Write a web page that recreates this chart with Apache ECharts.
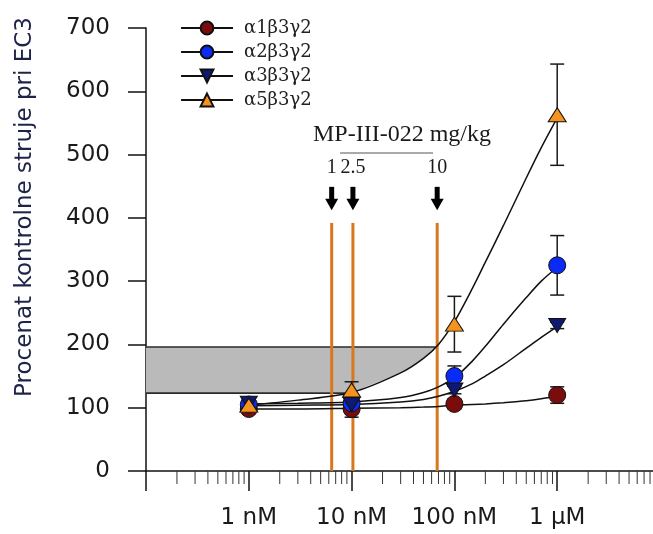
<!DOCTYPE html>
<html><head><meta charset="utf-8">
<script src="https://cdn.jsdelivr.net/npm/echarts@6/dist/echarts.min.js"></script>
<style>html,body{margin:0;padding:0;background:#fff}#c{width:653px;height:534px}</style>
</head><body><div id="c"></div>
<script>
// ---------- data ----------
const seriesNames = ['α1β3γ2', 'α2β3γ2', 'α3β3γ2', 'α5β3γ2'];
const conc = [1, 10, 100, 1000]; // nM
const a1Mean = [98, 98, 106, 120];
const a1Err = [6, 13, 8, 13];
const a2Mean = [105, 107, 150, 325];
const a2Err = [5, 8, 16, 47];
const a3Mean = [107, 105, 128, 230];
const a3Err = [5, 5, 6, 5];
const a5Mean = [104, 128, 232, 563];
const a5Err = [5, 13, 44, 80];

const curveConc = [1, 3, 10, 30, 50, 70, 100, 150, 200, 300, 500, 700, 1000];
const a1Curve = [98, 98, 99, 100, 101, 102, 104, 105, 106, 108, 111, 114, 118];
const a2Curve = [106, 107, 109, 116, 124, 133, 147, 174, 197, 232, 274, 300, 322];
const a3Curve = [103, 104, 105, 109, 113, 118, 126, 138, 150, 168, 194, 211, 228];
const a5Curve = [104, 112, 124, 155, 178, 200, 236, 289, 330, 388, 463, 511, 558];

const doseLabels = ['1', '2.5', '10'];
const doseConc = [6.4, 10.3, 68];
const bandLow = 123, bandHigh = 196, bandStartConc = 0.1, bandEndConc = 67;

const xTickValues = [1, 10, 100, 1000];
const xTickLabels = ['1 nM', '10 nM', '100 nM', '1 µM'];
const minorTicks = [0.2,0.3,0.4,0.5,0.6,0.7,0.8,0.9, 2,3,4,5,6,7,8,9, 20,30,40,50,60,70,80,90,
  200,300,400,500,600,700,800,900, 2000,3000,4000,5000,6000,7000,8000,9000];

// ---------- styling constants ----------
const colors = ['#7a0c0c', '#0a2af5', '#0e1a72', '#f5931e'];
const symbols = ['circle', 'circle', 'triangle', 'triangle'];
const rotations = [0, 0, 180, 0];
const sizes = [17, 17, [17, 14], [18, 14]];
const means = [a1Mean, a2Mean, a3Mean, a5Mean];
const errs = [a1Err, a2Err, a3Err, a5Err];
const curves = [a1Curve, a2Curve, a3Curve, a5Curve];
const vlineTop = 392, arrowTop = 449, arrowHead = 430, arrowTip = 412, doseLabelY = 479;
const SANS = 'DejaVu Sans', SERIF = 'Liberation Serif';

const chart = echarts.init(document.getElementById('c'));
const series = [];

// gray band
series.push({
  type: 'custom', silent: true, z: 1, clip: false,
  data: [[bandStartConc, bandHigh]], encode: {x: 0, y: 1},
  renderItem: function (params, api) {
    const pts = [[bandStartConc, bandHigh], [bandEndConc, bandHigh]];
    const a5 = curves[3];
    for (let i = curveConc.length - 1; i >= 0; i--) {
      if (curveConc[i] < bandEndConc && curveConc[i] >= 10) pts.push([curveConc[i], a5[i]]);
    }
    pts.push([bandStartConc, bandLow]);
    const px = pts.map(p => api.coord(p));
    const lowEnd = api.coord([10, bandLow]);
    return {type: 'group', children: [
      {type: 'polygon', shape: {points: px}, style: {fill: '#bababa', stroke: null}},
      {type: 'line', shape: {x1: px[0][0], y1: px[0][1], x2: px[1][0], y2: px[1][1]}, style: {stroke: '#2a2a2a', lineWidth: 1.6}},
      {type: 'line', shape: {x1: px[px.length-1][0], y1: px[px.length-1][1], x2: lowEnd[0], y2: lowEnd[1]}, style: {stroke: '#2a2a2a', lineWidth: 1.6}}
    ]};
  }
});

// orange vertical lines, arrows and dose labels
series.push({
  type: 'custom', silent: true, z: 2, clip: false,
  data: doseConc.map(c => [c, vlineTop]), encode: {x: 0, y: 1},
  renderItem: function (params, api) {
    const c = api.value(0);
    const b = api.coord([c, 0]), t = api.coord([c, vlineTop]);
    const at = api.coord([c, arrowTop]), ah = api.coord([c, arrowHead]), tip = api.coord([c, arrowTip]);
    const lp = api.coord([c, doseLabelY]);
    return {type: 'group', children: [
      {type: 'line', shape: {x1: b[0], y1: b[1], x2: t[0], y2: t[1]}, style: {stroke: '#d8781c', lineWidth: 3}},
      {type: 'rect', shape: {x: at[0] - 2.5, y: at[1], width: 5, height: ah[1] - at[1] + 1}, style: {fill: '#000'}},
      {type: 'polygon', shape: {points: [[ah[0] - 6.5, ah[1]], [ah[0] + 6.5, ah[1]], [tip[0], tip[1]]]}, style: {fill: '#000'}},
      {type: 'text', x: lp[0], y: lp[1], style: {text: doseLabels[params.dataIndex], font: '20px ' + SERIF, fill: '#1a1a1a', align: 'center', verticalAlign: 'middle', textAlign: 'center', textVerticalAlign: 'middle'}}
    ]};
  }
});

// minor ticks on x axis
series.push({
  type: 'custom', silent: true, z: 2, clip: false,
  data: minorTicks.map(v => [v, 0]), encode: {x: 0, y: 1},
  renderItem: function (params, api) {
    const p = api.coord([api.value(0), 0]);
    return {type: 'line', shape: {x1: p[0], y1: p[1], x2: p[0], y2: p[1] + 13}, style: {stroke: '#333', lineWidth: 1}};
  }
});

// fitted curves (also legend entries)
for (let k = 0; k < 4; k++) {
  series.push({
    type: 'line', name: seriesNames[k], z: 3, silent: true,
    data: curveConc.map((c, i) => [c, curves[k][i]]),
    smooth: 0.3, showSymbol: false,
    symbol: symbols[k], symbolRotate: rotations[k],
    lineStyle: {color: '#111', width: 1.5},
    itemStyle: {color: colors[k], borderColor: '#111', borderWidth: 1},
    emphasis: {disabled: true}
  });
}

// error bars + markers
for (let k = 0; k < 4; k++) {
  series.push({
    type: 'custom', silent: true, z: 4, clip: false,
    data: conc.map((c, i) => [c, means[k][i], errs[k][i]]), encode: {x: 0, y: 1},
    renderItem: function (params, api) {
      const x = api.value(0), m = api.value(1), e = api.value(2);
      const t = api.coord([x, m + e]), b = api.coord([x, m - e]);
      const hw = 7;
      const st = {stroke: '#1a1a1a', lineWidth: 1.5};
      return {type: 'group', children: [
        {type: 'line', shape: {x1: t[0], y1: t[1], x2: b[0], y2: b[1]}, style: st},
        {type: 'line', shape: {x1: t[0] - hw, y1: t[1], x2: t[0] + hw, y2: t[1]}, style: st},
        {type: 'line', shape: {x1: b[0] - hw, y1: b[1], x2: b[0] + hw, y2: b[1]}, style: st}
      ]};
    }
  });
  series.push({
    type: 'scatter', name: seriesNames[k] + ' data', z: 5, silent: true,
    data: conc.map((c, i) => [c, means[k][i]]),
    symbol: symbols[k], symbolRotate: rotations[k], symbolSize: sizes[k],
    itemStyle: {color: colors[k], borderColor: '#111', borderWidth: 1, opacity: 1},
    emphasis: {disabled: true}
  });
}

const option = {
  animation: false,
  backgroundColor: '#fff',
  grid: {left: 146, top: 28, width: 514, height: 443, containLabel: false, outerBoundsMode: 'none'},
  legend: {
    orient: 'vertical', left: 175, top: 14, itemWidth: 52, itemHeight: 16, itemGap: 6,
    data: seriesNames, selectedMode: false,
    textStyle: {fontFamily: 'DejaVu Serif', fontSize: 18, color: '#222', padding: [0, 0, 0, 6]}
  },
  xAxis: {
    type: 'log', logBase: 10, min: 0.1, max: 10000,
    axisLine: {show: true, lineStyle: {color: '#111', width: 1.5}},
    axisTick: {show: true, length: 20, lineStyle: {color: '#111', width: 1.5}},
    splitLine: {show: false},
    axisLabel: {
      margin: 36, fontFamily: SANS, fontSize: 23, color: '#1a1a1a',
      formatter: function (v) {
        for (let i = 0; i < xTickValues.length; i++) {
          if (Math.abs(v - xTickValues[i]) / xTickValues[i] < 1e-6) return xTickLabels[i];
        }
        return '';
      }
    }
  },
  yAxis: {
    type: 'value', min: 0, max: 700, interval: 100,
    axisLine: {show: true, lineStyle: {color: '#111', width: 1.5}},
    axisTick: {show: true, length: 18, lineStyle: {color: '#111', width: 1.5}},
    splitLine: {show: false},
    axisLabel: {margin: 36, fontFamily: SANS, fontSize: 23, color: '#1a1a1a'}
  },
  graphic: [
    {type: 'text', x: 25, y: 207, rotation: Math.PI / 2,
     style: {text: 'Procenat kontrolne struje pri EC3', font: '23px ' + SANS, fill: '#1e2348',
             align: 'center', verticalAlign: 'middle', textAlign: 'center', textVerticalAlign: 'middle'}},
    {type: 'text', x: 402, y: 135,
     style: {text: 'MP-III-022 mg/kg', font: '24px ' + SERIF, fill: '#1a1a1a',
             align: 'center', verticalAlign: 'middle', textAlign: 'center', textVerticalAlign: 'middle'}},
    {type: 'line', shape: {x1: 340, y1: 153, x2: 433, y2: 153}, style: {stroke: '#555', lineWidth: 1}}
  ],
  series: series
};
chart.setOption(option);
</script>
</body></html>
